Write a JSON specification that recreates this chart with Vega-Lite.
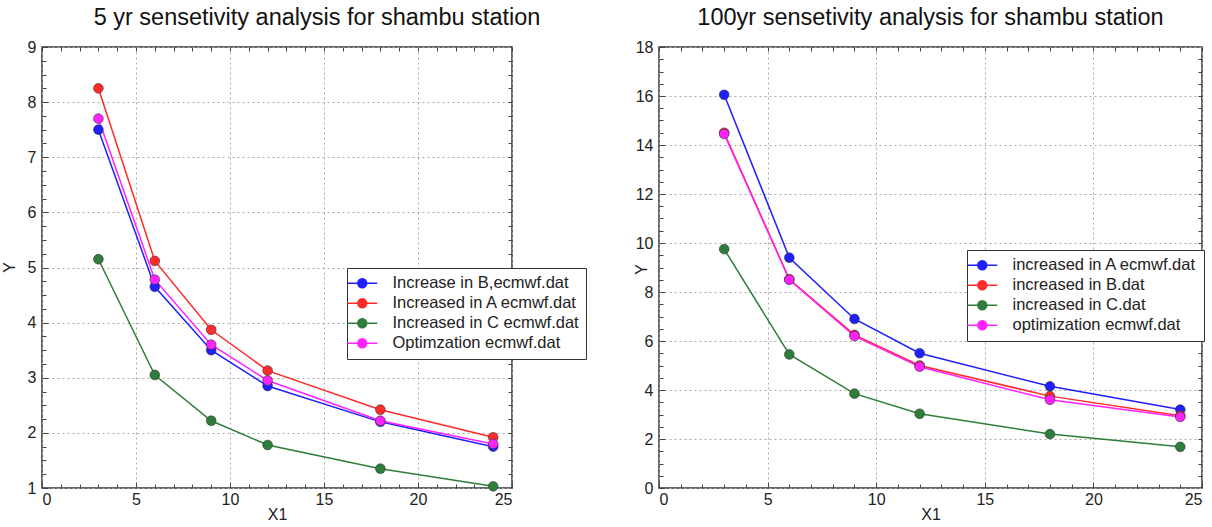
{
  "$schema": "https://vega.github.io/schema/vega-lite/v6.json",
  "padding": {"left": 0, "top": 4, "right": 3, "bottom": 0},
  "background": "white",
  "spacing": 44,
  "config": {
    "font": "Liberation Sans",
    "view": {"stroke": "#333", "strokeWidth": 1.5},
    "title": {"fontSize": 23.5, "fontWeight": "normal", "color": "#111", "offset": 10},
    "axis": {
      "labelFontSize": 16, "labelColor": "#222", "titleFontSize": 16, "titleFontWeight": "normal", "titleColor": "#222",
      "gridDash": [2, 3], "gridColor": "#aaa", "gridWidth": 1,
      "domain": false, "tickColor": "#444", "tickSize": -6, "labelPadding": 12
    },
    "legend": {
      "orient": "none", "strokeColor": "#333", "fillColor": "white", "padding": 7,
      "labelFontSize": 16.5, "labelColor": "#222", "symbolStrokeWidth": 1.5, "symbolSize": 100, "rowPadding": 3,
      "symbolType": "M-3,0L3,0M-0.9,0A0.9,0.9,0,1,1,0.9,0A0.9,0.9,0,1,1,-0.9,0",
      "title": null, "labelLimit": 300, "labelOffset": 22
    }
  },
  "datasets": {
    "left": [
      {"x": 3, "y": 7.5, "s": "Increase in B,ecmwf.dat"},
      {"x": 6, "y": 4.65, "s": "Increase in B,ecmwf.dat"},
      {"x": 9, "y": 3.5, "s": "Increase in B,ecmwf.dat"},
      {"x": 12, "y": 2.85, "s": "Increase in B,ecmwf.dat"},
      {"x": 18, "y": 2.2, "s": "Increase in B,ecmwf.dat"},
      {"x": 24, "y": 1.75, "s": "Increase in B,ecmwf.dat"},
      {"x": 3, "y": 8.25, "s": "Increased in A ecmwf.dat"},
      {"x": 6, "y": 5.12, "s": "Increased in A ecmwf.dat"},
      {"x": 9, "y": 3.87, "s": "Increased in A ecmwf.dat"},
      {"x": 12, "y": 3.13, "s": "Increased in A ecmwf.dat"},
      {"x": 18, "y": 2.42, "s": "Increased in A ecmwf.dat"},
      {"x": 24, "y": 1.92, "s": "Increased in A ecmwf.dat"},
      {"x": 3, "y": 5.15, "s": "Increased in C ecmwf.dat"},
      {"x": 6, "y": 3.05, "s": "Increased in C ecmwf.dat"},
      {"x": 9, "y": 2.22, "s": "Increased in C ecmwf.dat"},
      {"x": 12, "y": 1.78, "s": "Increased in C ecmwf.dat"},
      {"x": 18, "y": 1.35, "s": "Increased in C ecmwf.dat"},
      {"x": 24, "y": 1.03, "s": "Increased in C ecmwf.dat"},
      {"x": 3, "y": 7.7, "s": "Optimzation ecmwf.dat"},
      {"x": 6, "y": 4.78, "s": "Optimzation ecmwf.dat"},
      {"x": 9, "y": 3.6, "s": "Optimzation ecmwf.dat"},
      {"x": 12, "y": 2.95, "s": "Optimzation ecmwf.dat"},
      {"x": 18, "y": 2.22, "s": "Optimzation ecmwf.dat"},
      {"x": 24, "y": 1.8, "s": "Optimzation ecmwf.dat"}
    ],
    "right": [
      {"x": 3, "y": 16.05, "s": "increased in A ecmwf.dat"},
      {"x": 6, "y": 9.4, "s": "increased in A ecmwf.dat"},
      {"x": 9, "y": 6.9, "s": "increased in A ecmwf.dat"},
      {"x": 12, "y": 5.5, "s": "increased in A ecmwf.dat"},
      {"x": 18, "y": 4.15, "s": "increased in A ecmwf.dat"},
      {"x": 24, "y": 3.2, "s": "increased in A ecmwf.dat"},
      {"x": 3, "y": 14.5, "s": "increased in B.dat"},
      {"x": 6, "y": 8.52, "s": "increased in B.dat"},
      {"x": 9, "y": 6.25, "s": "increased in B.dat"},
      {"x": 12, "y": 5.0, "s": "increased in B.dat"},
      {"x": 18, "y": 3.75, "s": "increased in B.dat"},
      {"x": 24, "y": 2.95, "s": "increased in B.dat"},
      {"x": 3, "y": 9.75, "s": "increased in C.dat"},
      {"x": 6, "y": 5.45, "s": "increased in C.dat"},
      {"x": 9, "y": 3.85, "s": "increased in C.dat"},
      {"x": 12, "y": 3.03, "s": "increased in C.dat"},
      {"x": 18, "y": 2.2, "s": "increased in C.dat"},
      {"x": 24, "y": 1.68, "s": "increased in C.dat"},
      {"x": 3, "y": 14.45, "s": "optimization ecmwf.dat"},
      {"x": 6, "y": 8.5, "s": "optimization ecmwf.dat"},
      {"x": 9, "y": 6.2, "s": "optimization ecmwf.dat"},
      {"x": 12, "y": 4.95, "s": "optimization ecmwf.dat"},
      {"x": 18, "y": 3.6, "s": "optimization ecmwf.dat"},
      {"x": 24, "y": 2.9, "s": "optimization ecmwf.dat"}
    ]
  },
  "resolve": {"scale": {"color": "independent"}},
  "hconcat": [
    {
      "title": {"text": "5 yr sensetivity analysis for shambu station", "dx": 40},
      "width": 470,
      "height": 441,
      "data": {"name": "left"},
      "resolve": {"axis": {"x": "independent", "y": "independent"}},
      "layer": [
        {
          "mark": {"type": "line", "strokeWidth": 1.5, "point": {"filled": true, "size": 95, "stroke": "#333", "strokeWidth": 0.6}},
          "encoding": {
            "x": {"field": "x", "type": "quantitative", "scale": {"domain": [0, 25], "nice": false}, "axis": {"title": "X1", "values": [0, 5, 10, 15, 20, 25], "orient": "bottom", "titlePadding": -1, "labelPadding": 9}},
            "y": {"field": "y", "type": "quantitative", "scale": {"domain": [1, 9], "nice": false}, "axis": {"title": "Y", "values": [1, 2, 3, 4, 5, 6, 7, 8, 9], "orient": "left", "titleX": -25, "titleY": 220}},
            "color": {"field": "s", "type": "nominal", "sort": ["Increase in B,ecmwf.dat", "Increased in A ecmwf.dat", "Increased in C ecmwf.dat", "Optimzation ecmwf.dat"],
              "scale": {"domain": ["Increase in B,ecmwf.dat", "Increased in A ecmwf.dat", "Increased in C ecmwf.dat", "Optimzation ecmwf.dat"], "range": ["#1f1fff", "#ff2a2a", "#2e7d3a", "#ff22ff"]},
              "legend": {"legendX": 305, "legendY": 221}}
          }
        },
        {
          "mark": {"type": "point", "opacity": 0},
          "encoding": {
            "x": {"field": "x", "type": "quantitative", "scale": {"domain": [0, 25], "nice": false}, "axis": {"orient": "top", "labels": false, "title": null, "grid": false, "values": [0,1,2,3,4,5,6,7,8,9,10,11,12,13,14,15,16,17,18,19,20,21,22,23,24,25], "tickSize": -4}},
            "y": {"field": "y", "type": "quantitative", "scale": {"domain": [1, 9], "nice": false}, "axis": {"orient": "right", "labels": false, "title": null, "grid": false, "values": [1.25,1.5,1.75,2,2.25,2.5,2.75,3,3.25,3.5,3.75,4,4.25,4.5,4.75,5,5.25,5.5,5.75,6,6.25,6.5,6.75,7,7.25,7.5,7.75,8,8.25,8.5,8.75], "tickSize": -4}}
          }
        },
        {
          "mark": {"type": "point", "opacity": 0},
          "encoding": {
            "x": {"field": "x", "type": "quantitative", "scale": {"domain": [0, 25], "nice": false}, "axis": {"orient": "bottom", "labels": false, "title": null, "grid": false, "values": [1,2,3,4,6,7,8,9,11,12,13,14,16,17,18,19,21,22,23,24], "tickSize": -4}},
            "y": {"field": "y", "type": "quantitative", "scale": {"domain": [1, 9], "nice": false}, "axis": {"orient": "left", "labels": false, "title": null, "grid": false, "values": [1.25,1.5,1.75,2.25,2.5,2.75,3.25,3.5,3.75,4.25,4.5,4.75,5.25,5.5,5.75,6.25,6.5,6.75,7.25,7.5,7.75,8.25,8.5,8.75], "tickSize": -4}}
          }
        }
      ]
    },
    {
      "title": "100yr sensetivity analysis for shambu station",
      "width": 543,
      "height": 441,
      "data": {"name": "right"},
      "resolve": {"axis": {"x": "independent", "y": "independent"}},
      "layer": [
        {
          "mark": {"type": "line", "strokeWidth": 1.5, "point": {"filled": true, "size": 95, "stroke": "#333", "strokeWidth": 0.6}},
          "encoding": {
            "x": {"field": "x", "type": "quantitative", "scale": {"domain": [0, 25], "nice": false}, "axis": {"title": "X1", "values": [0, 5, 10, 15, 20, 25], "orient": "bottom", "titlePadding": -1, "labelPadding": 9}},
            "y": {"field": "y", "type": "quantitative", "scale": {"domain": [0, 18], "nice": false}, "axis": {"title": "Y", "values": [0, 2, 4, 6, 8, 10, 12, 14, 16, 18], "orient": "left", "titleX": -10, "titleY": 222}},
            "color": {"field": "s", "type": "nominal", "sort": ["increased in A ecmwf.dat", "increased in B.dat", "increased in C.dat", "optimization ecmwf.dat"],
              "scale": {"domain": ["increased in A ecmwf.dat", "increased in B.dat", "increased in C.dat", "optimization ecmwf.dat"], "range": ["#1f1fff", "#ff2a2a", "#2e7d3a", "#ff22ff"]},
              "legend": {"legendX": 308, "legendY": 203}}
          }
        },
        {
          "mark": {"type": "point", "opacity": 0},
          "encoding": {
            "x": {"field": "x", "type": "quantitative", "scale": {"domain": [0, 25], "nice": false}, "axis": {"orient": "top", "labels": false, "title": null, "grid": false, "values": [0,1,2,3,4,5,6,7,8,9,10,11,12,13,14,15,16,17,18,19,20,21,22,23,24,25], "tickSize": -4}},
            "y": {"field": "y", "type": "quantitative", "scale": {"domain": [0, 18], "nice": false}, "axis": {"orient": "right", "labels": false, "title": null, "grid": false, "values": [0.5,1,1.5,2,2.5,3,3.5,4,4.5,5,5.5,6,6.5,7,7.5,8,8.5,9,9.5,10,10.5,11,11.5,12,12.5,13,13.5,14,14.5,15,15.5,16,16.5,17,17.5], "tickSize": -4}}
          }
        },
        {
          "mark": {"type": "point", "opacity": 0},
          "encoding": {
            "x": {"field": "x", "type": "quantitative", "scale": {"domain": [0, 25], "nice": false}, "axis": {"orient": "bottom", "labels": false, "title": null, "grid": false, "values": [1,2,3,4,6,7,8,9,11,12,13,14,16,17,18,19,21,22,23,24], "tickSize": -4}},
            "y": {"field": "y", "type": "quantitative", "scale": {"domain": [0, 18], "nice": false}, "axis": {"orient": "left", "labels": false, "title": null, "grid": false, "values": [0.5,1,1.5,2.5,3,3.5,4.5,5,5.5,6.5,7,7.5,8.5,9,9.5,10.5,11,11.5,12.5,13,13.5,14.5,15,15.5,16.5,17,17.5], "tickSize": -4}}
          }
        }
      ]
    }
  ]
}
